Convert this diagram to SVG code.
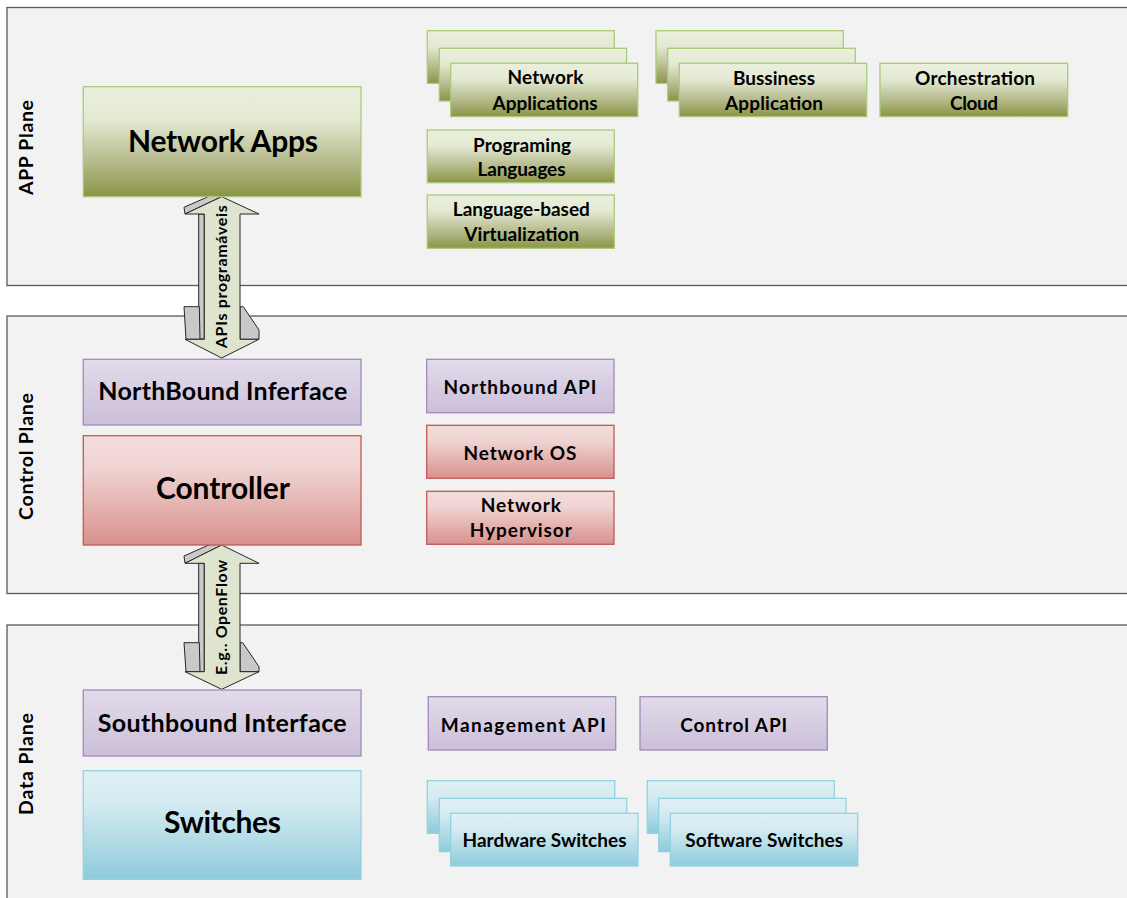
<svg xmlns="http://www.w3.org/2000/svg" width="1127" height="898" viewBox="0 0 1127 898">
  <defs>
    <linearGradient id="gGreen" x1="0" y1="0" x2="0" y2="1">
      <stop offset="0" stop-color="#eaf0dc"/>
      <stop offset="0.3" stop-color="#e3e9d2"/>
      <stop offset="0.65" stop-color="#b9bf92"/>
      <stop offset="1" stop-color="#8c9446"/>
    </linearGradient>
    <linearGradient id="gPurple" x1="0" y1="0" x2="0" y2="1">
      <stop offset="0" stop-color="#e2dbea"/>
      <stop offset="1" stop-color="#cbbfd9"/>
    </linearGradient>
    <linearGradient id="gRed" x1="0" y1="0" x2="0" y2="1">
      <stop offset="0" stop-color="#f3dddc"/>
      <stop offset="0.3" stop-color="#efd3d1"/>
      <stop offset="1" stop-color="#d8918e"/>
    </linearGradient>
    <linearGradient id="gBlue" x1="0" y1="0" x2="0" y2="1">
      <stop offset="0" stop-color="#e0f0f4"/>
      <stop offset="0.3" stop-color="#d5ebf1"/>
      <stop offset="1" stop-color="#8ecbdb"/>
    </linearGradient>
  </defs>
  <style>
    .panel { fill: #f2f2f2; stroke: #5a5a5a; stroke-width: 1.3; }
    .green { fill: url(#gGreen); stroke: #aacb78; stroke-width: 1.3; }
    .purple { fill: url(#gPurple); stroke: #9f8bbd; stroke-width: 1.3; }
    .red { fill: url(#gRed); stroke: #c25a57; stroke-width: 1.3; }
    .blue { fill: url(#gBlue); stroke: #92d1e0; stroke-width: 1.3; }
    .face { fill: #dfe4cf; stroke: #262626; stroke-width: 1; stroke-linejoin: miter; }
    .side { fill: #c9c9c9; stroke: #262626; stroke-width: 1; }
    text { font-family: Lato, "Open Sans", "Liberation Sans", sans-serif; font-weight: 700; fill: #000000; text-anchor: middle; }
    .big { font-size: 30px; }
    .mid { font-size: 25px; }
    .small { font-size: 19px; }
    .plane { font-size: 19.5px; }
    .arrow { font-size: 16px; }
  </style>

  <rect width="1127" height="898" fill="#ffffff"/>

  <!-- planes -->
  <g id="app-plane">
    <rect class="panel" x="7" y="7.5" width="1140" height="278"/>
    <text class="plane" transform="translate(33,147.5) rotate(-90)" textLength="95">APP Plane</text>
  </g>
  <g id="control-plane">
    <rect class="panel" x="7" y="316" width="1140" height="277.5"/>
    <text class="plane" transform="translate(33,456.5) rotate(-90)" textLength="127">Control Plane</text>
  </g>
  <g id="data-plane">
    <rect class="panel" x="7" y="625" width="1140" height="290"/>
    <text class="plane" transform="translate(33,764) rotate(-90)" textLength="102">Data Plane</text>
  </g>

  <!-- double arrows between planes -->
  <g id="connectors">
    <g id="apis-arrow">
      <polygon class="side" points="185,214 184,207.3 212,195 221.7,196.7"/>
      <rect class="side" x="198.7" y="214" width="5.6" height="125"/>
      <polygon class="side" points="184,306.7 199.3,306.7 200,339.3 186,339.3"/>
      <polygon class="side" points="240,306.7 243.3,306.7 259,330 259,339.3 240,339.3"/>
      <polygon class="face" points="221.7,196.7 259,214 240,214 240,339.3 259,339.3 221.7,358 185,339.3 204.3,339.3 204.3,214 185,214"/>
      <text class="arrow" transform="translate(227,276.7) rotate(-90)" textLength="143">APIs programáveis</text>
    </g>
    <g id="openflow-arrow">
      <polygon class="side" points="185,563.3 184,556 212,543.5 221.7,545"/>
      <rect class="side" x="198.7" y="563.3" width="5.6" height="108.4"/>
      <polygon class="side" points="184,642.7 199.3,642.7 200,671.7 186,671.7"/>
      <polygon class="side" points="240,642.7 242.7,642.7 259,666.7 259,671.7 240,671.7"/>
      <polygon class="face" points="221.7,545 259,563.3 240,563.3 240,671.7 259,671.7 221.7,689.3 185,671.7 204.3,671.7 204.3,563.3 185,563.3"/>
      <text class="arrow" transform="translate(227,617.5) rotate(-90)" textLength="115">E.g.. OpenFlow</text>
    </g>
  </g>

  <!-- application plane nodes -->
  <g id="network-apps">
    <rect class="green" x="83.3" y="86.7" width="277.7" height="110"/>
    <text class="big" x="223" y="151.7" textLength="190">Network Apps</text>
  </g>
  <g id="network-applications">
    <rect class="green" x="427.3" y="30.7" width="187" height="52.7"/>
    <rect class="green" x="439.3" y="48.3" width="187.3" height="52.7"/>
    <rect class="green" x="450.7" y="63.3" width="187" height="53.3"/>
    <text class="small" x="545.5" y="84.3" textLength="76">Network</text>
    <text class="small" x="545" y="110" textLength="105">Applications</text>
  </g>
  <g id="business-application">
    <rect class="green" x="656" y="30.7" width="187.3" height="52.7"/>
    <rect class="green" x="667.7" y="48.3" width="187.6" height="52.7"/>
    <rect class="green" x="679.3" y="63.3" width="187.4" height="53.3"/>
    <text class="small" x="774" y="85" textLength="82">Bussiness</text>
    <text class="small" x="774" y="110" textLength="98">Application</text>
  </g>
  <g id="orchestration-cloud">
    <rect class="green" x="880" y="63.3" width="187.7" height="53.3"/>
    <text class="small" x="975" y="85" textLength="120">Orchestration</text>
    <text class="small" x="974" y="110" textLength="48">Cloud</text>
  </g>
  <g id="programing-languages">
    <rect class="green" x="427.3" y="130" width="187" height="52.7"/>
    <text class="small" x="522" y="151.7" textLength="98">Programing</text>
    <text class="small" x="521.5" y="175.5" textLength="88">Languages</text>
  </g>
  <g id="language-virtualization">
    <rect class="green" x="427.3" y="195" width="187" height="53.3"/>
    <text class="small" x="521.3" y="215.5" textLength="137">Language-based</text>
    <text class="small" x="521.8" y="240.7" textLength="115">Virtualization</text>
  </g>

  <!-- control plane nodes -->
  <g id="northbound-interface">
    <rect class="purple" x="83.3" y="359.3" width="277.7" height="65.7"/>
    <text class="mid" x="222.8" y="400" textLength="249">NorthBound Inferface</text>
  </g>
  <g id="controller">
    <rect class="red" x="83.3" y="435.7" width="277.7" height="109.3"/>
    <text class="big" x="223" y="499.3" textLength="134">Controller</text>
  </g>
  <g id="northbound-api">
    <rect class="purple" x="426.7" y="359.3" width="187.3" height="53.4"/>
    <text class="small" x="520" y="394.3" textLength="153">Northbound API</text>
  </g>
  <g id="network-os">
    <rect class="red" x="426.7" y="425.3" width="187.3" height="53"/>
    <text class="small" x="520" y="460" textLength="113">Network OS</text>
  </g>
  <g id="network-hypervisor">
    <rect class="red" x="426.7" y="491.3" width="187.3" height="53"/>
    <text class="small" x="520.8" y="511.7" textLength="80">Network</text>
    <text class="small" x="520.8" y="536.7" textLength="102">Hypervisor</text>
  </g>

  <!-- data plane nodes -->
  <g id="southbound-interface">
    <rect class="purple" x="83.3" y="690" width="277.7" height="66"/>
    <text class="mid" x="222.2" y="731.7" textLength="249">Southbound Interface</text>
  </g>
  <g id="switches">
    <rect class="blue" x="83.3" y="770.7" width="277.7" height="108.6"/>
    <text class="big" x="222.5" y="833.3" textLength="117">Switches</text>
  </g>
  <g id="management-api">
    <rect class="purple" x="428.3" y="696.7" width="187.4" height="53.3"/>
    <text class="small" x="523.3" y="731.7" textLength="165">Management API</text>
  </g>
  <g id="control-api">
    <rect class="purple" x="640" y="696.7" width="187.3" height="53.3"/>
    <text class="small" x="733.7" y="731.7" textLength="107">Control API</text>
  </g>
  <g id="hardware-switches">
    <rect class="blue" x="427.3" y="780.7" width="187.4" height="52.6"/>
    <rect class="blue" x="439.3" y="798.3" width="187.4" height="53.4"/>
    <rect class="blue" x="450.7" y="813.3" width="187.3" height="52.7"/>
    <text class="small" x="544.5" y="846.7" textLength="164">Hardware Switches</text>
  </g>
  <g id="software-switches">
    <rect class="blue" x="647.3" y="780.7" width="187" height="52.6"/>
    <rect class="blue" x="658.7" y="798.3" width="187.3" height="53.4"/>
    <rect class="blue" x="670.3" y="813.3" width="187.4" height="52.7"/>
    <text class="small" x="764.2" y="846.7" textLength="158">Software Switches</text>
  </g>
</svg>
